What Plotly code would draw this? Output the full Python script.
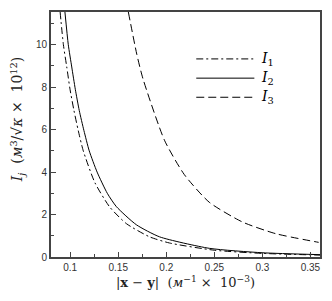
import plotly.graph_objects as go

# I1 (dash-dot)
x1 = [0.0895, 0.0929, 0.0964, 0.0998, 0.1039, 0.1084, 0.1136, 0.1257, 0.1412, 0.1585, 0.1826, 0.2033, 0.2500, 0.3000, 0.3600]
y1 = [11.54, 10.0, 8.95, 7.9, 6.9, 5.95, 5.0, 3.5, 2.35, 1.57, 0.95, 0.66, 0.32, 0.17, 0.09]
# I2 (solid)
x2 = [0.0945, 0.0980, 0.1016, 0.1053, 0.1094, 0.1143, 0.1198, 0.1280, 0.1386, 0.1481, 0.1688, 0.1930, 0.2447, 0.3000, 0.3600]
y2 = [11.54, 10.0, 8.95, 7.9, 6.9, 5.95, 5.0, 4.0, 3.0, 2.37, 1.52, 0.95, 0.41, 0.20, 0.11]
# I3 (dashed)
x3 = [0.1605, 0.1693, 0.1757, 0.1981, 0.2188, 0.2447, 0.2792, 0.3138, 0.3586]
y3 = [11.54, 9.55, 8.4, 5.5, 3.88, 2.58, 1.65, 1.10, 0.69]

names = ["1", "2", "3"]
dashes = ["7px,3px,2px,3px", "solid", "8px,4px"]

fig = go.Figure()
for xs, ys, d in zip([x1, x2, x3], [y1, y2, y3], dashes):
    fig.add_trace(go.Scatter(x=xs, y=ys, mode="lines",
                             line=dict(color="black", width=1, dash=d, shape="spline", smoothing=0.6),
                             showlegend=False, hoverinfo="skip"))

# manual legend
leg_y = [0.8085, 0.730, 0.652]
for n, d, ly in zip(names, dashes, leg_y):
    fig.add_shape(type="line", xref="paper", yref="paper", x0=0.540, x1=0.756, y0=ly, y1=ly,
                  line=dict(color="black", width=1, dash=d))
    fig.add_annotation(xref="paper", yref="paper", x=0.772, y=ly, xanchor="left", yanchor="middle",
                       text="<i>I</i><sub>%s</sub>" % n, showarrow=False,
                       font=dict(family="DejaVu Serif", size=14, color="black"))

# y-axis title as annotation (positioned like the reference)
fig.add_annotation(xref="paper", yref="paper", x=-0.125, y=0.56, xanchor="center", yanchor="middle",
                   textangle=-90, showarrow=False,
                   text="<i>I<sub>j</sub></i>  (<i>м</i><sup>3</sup>/√<i>κ</i> ×  10<sup>12</sup>)",
                   font=dict(family="DejaVu Serif", size=14, color="#222"))

axis_common = dict(showline=True, linecolor="#444", linewidth=2, mirror=True,
                   ticks="inside", ticklen=5, tickcolor="#444", tickwidth=1,
                   showgrid=False, zeroline=False,
                   tickfont=dict(family="Liberation Sans", size=10, color="#333"))

fig.update_xaxes(range=[0.08, 0.36], tick0=0.1, dtick=0.05,
                 minor=dict(ticks="inside", ticklen=3, dtick=0.025, tick0=0.1, tickcolor="#444"),
                 title=dict(text="|<b>x</b> − <b>y</b>|  (<i>м</i><sup>−1</sup> ×  10<sup>−3</sup>)",
                            font=dict(family="DejaVu Serif", size=13, color="#222"), standoff=6),
                 **axis_common)
fig.update_yaxes(range=[0, 11.54], tick0=0, dtick=2,
                 minor=dict(ticks="inside", ticklen=3, dtick=1, tickcolor="#444"),
                 **axis_common)

fig.update_layout(width=332, height=301, margin=dict(l=51, r=11, t=10, b=44),
                  paper_bgcolor="white", plot_bgcolor="white")
fig.write_html("out.html", config={"displayModeBar": False},
               post_script="document.body.style.margin='0px';document.body.style.overflow='hidden';")
